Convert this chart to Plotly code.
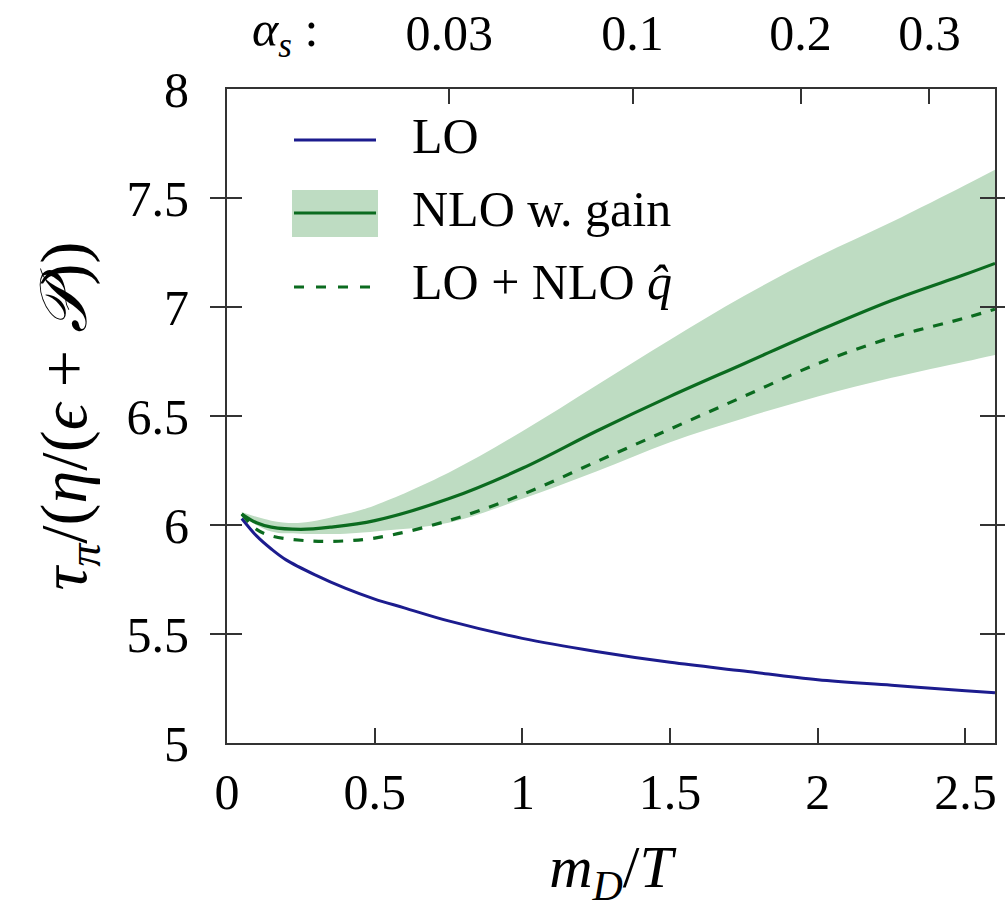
import numpy as np
import plotly.graph_objects as go

# ---------------- data ----------------
x_lo = [0.05, 0.1, 0.15, 0.2, 0.3, 0.4, 0.5, 0.6, 0.75, 1.0, 1.25, 1.5, 1.75, 2.0, 2.25, 2.5, 2.6]
y_lo = [6.03, 5.95, 5.89, 5.84, 5.77, 5.71, 5.66, 5.62, 5.56, 5.48, 5.42, 5.37, 5.33, 5.29, 5.265, 5.24, 5.23]

x_nlo = [0.05, 0.1, 0.15, 0.25, 0.35, 0.5, 0.75, 1.0, 1.25, 1.5, 1.75, 2.0, 2.25, 2.5, 2.6]
y_nlo = [6.05, 6.01, 5.99, 5.98, 5.99, 6.02, 6.12, 6.26, 6.43, 6.59, 6.74, 6.89, 7.03, 7.15, 7.2]

x_qhat = [0.05, 0.1, 0.15, 0.25, 0.35, 0.5, 0.75, 1.0, 1.25, 1.5, 1.75, 2.0, 2.25, 2.5, 2.6]
y_qhat = [6.05, 5.98, 5.95, 5.93, 5.925, 5.94, 6.02, 6.14, 6.29, 6.44, 6.59, 6.74, 6.86, 6.95, 6.99]

x_band = [0.05, 0.15, 0.25, 0.4, 0.5, 0.75, 1.0, 1.25, 1.5, 1.75, 2.0, 2.25, 2.5, 2.6]
y_upper = [6.06, 6.02, 6.01, 6.05, 6.09, 6.24, 6.43, 6.64, 6.85, 7.05, 7.23, 7.39, 7.56, 7.63]
y_lower = [6.04, 5.97, 5.96, 5.96, 5.97, 6.01, 6.12, 6.245, 6.38, 6.49, 6.59, 6.675, 6.75, 6.78]

x_ticks = [0, 0.5, 1, 1.5, 2, 2.5]
y_ticks = [5, 5.5, 6, 6.5, 7, 7.5, 8]
y_tick_labels = ["5", "5.5", "6", "6.5", "7", "7.5", "8"]
alpha_s = [0.03, 0.1, 0.2, 0.3]
alpha_labels = ["0.03", "0.1", "0.2", "0.3"]
# m_D/T = sqrt(6*pi*alpha_s)  (Nf = 3)
alpha_pos = [float(np.sqrt(6 * np.pi * a)) for a in alpha_s]

# ---------------- style ----------------
BLUE = "#1c1c8e"
GREEN = "#0b6b1f"
BAND = "#bedcc2"
FONT = "Liberation Serif"
FS = 50
AX = "#333333"

fig = go.Figure()
fig.add_trace(go.Scatter(x=x_band, y=y_lower, mode="lines", line=dict(width=0, shape="spline"),
                         showlegend=False, hoverinfo="skip"))
fig.add_trace(go.Scatter(x=x_band, y=y_upper, mode="lines", line=dict(width=0, shape="spline"),
                         fill="tonexty", fillcolor=BAND, showlegend=False, hoverinfo="skip"))
fig.add_trace(go.Scatter(x=x_lo, y=y_lo, mode="lines", line=dict(color=BLUE, width=3, shape="spline"),
                         name="LO", showlegend=False))
fig.add_trace(go.Scatter(x=x_nlo, y=y_nlo, mode="lines", line=dict(color=GREEN, width=3.2, shape="spline"),
                         name="NLO w. gain", showlegend=False))
fig.add_trace(go.Scatter(x=x_qhat, y=y_qhat, mode="lines",
                         line=dict(color=GREEN, width=3.2, dash="10px,10px", shape="spline"),
                         name="LO + NLO q", showlegend=False))
# dummy trace for the top (alpha_s) axis
fig.add_trace(go.Scatter(x=[0, 2.6], y=[5, 5], xaxis="x2", mode="lines",
                         line=dict(width=0), showlegend=False, hoverinfo="skip"))

fig.update_layout(
    width=1005, height=912,
    margin=dict(l=227, r=10, t=89, b=169, autoexpand=False),
    plot_bgcolor="white", paper_bgcolor="white",
    font=dict(family=FONT, size=FS, color="black"),
    xaxis=dict(range=[0, 2.6], tickvals=x_ticks, ticktext=[str(v) for v in x_ticks],
               ticks="inside", ticklen=15, tickwidth=1.5, tickcolor=AX,
               showline=True, linecolor=AX, linewidth=2, mirror=True, automargin=False,
               showgrid=False, zeroline=False, ticklabelstandoff=4,
               title=dict(text="<i>m</i><sub><i>D</i></sub>/<i>T</i>", font=dict(size=60), standoff=26)),
    xaxis2=dict(range=[0, 2.6], overlaying="x", side="top", tickvals=alpha_pos, ticktext=alpha_labels,
                ticks="inside", ticklen=15, tickwidth=1.5, tickcolor=AX, showline=False, automargin=False,
                showgrid=False, zeroline=False, ticklabelstandoff=28),
    yaxis=dict(range=[5, 8], tickvals=y_ticks, ticktext=y_tick_labels,
               ticks="inside", ticklen=15, tickwidth=1.5, tickcolor=AX,
               showline=True, linecolor=AX, linewidth=2, mirror="allticks", automargin=False,
               showgrid=False, zeroline=False, ticklabelstandoff=26,
               title=dict(text="<i>τ</i><sub><i>π</i></sub>/(<i>η</i>/(<i>ϵ</i> + <i>𝒫</i>))",
                          font=dict(size=66), standoff=18)),
)

# alpha_s label on top
fig.add_annotation(xref="paper", yref="paper", x=(285 - 227) / 768.0, y=(743 - 33) / 654.0,
                   text="<i>α</i><sub><i>s</i></sub> :",
                   showarrow=False, font=dict(size=FS), xanchor="center", yanchor="middle")

# ---------------- hand-drawn legend ----------------
def px(p):
    return (p - 227) / 768.0

def py(p):
    return (743 - p) / 654.0

fig.add_shape(type="line", xref="paper", yref="paper", x0=px(294), x1=px(376), y0=py(140), y1=py(140),
              line=dict(color=BLUE, width=3))
fig.add_shape(type="rect", xref="paper", yref="paper", x0=px(292), x1=px(378), y0=py(237), y1=py(190),
              fillcolor=BAND, line=dict(width=0))
fig.add_shape(type="line", xref="paper", yref="paper", x0=px(294), x1=px(376), y0=py(213), y1=py(213),
              line=dict(color=GREEN, width=3.2))
fig.add_shape(type="line", xref="paper", yref="paper", x0=px(294), x1=px(376), y0=py(287), y1=py(287),
              line=dict(color=GREEN, width=3.2, dash="10px,12px"))

legend_texts = ["LO", "NLO w. gain", "LO + NLO <i>q̂</i>"]
legend_y = [136, 209, 282]
for t, yy in zip(legend_texts, legend_y):
    fig.add_annotation(xref="paper", yref="paper", x=px(410), y=py(yy), text=t, showarrow=False,
                       xanchor="left", yanchor="middle", font=dict(size=FS))

fig.write_html("out.html")
